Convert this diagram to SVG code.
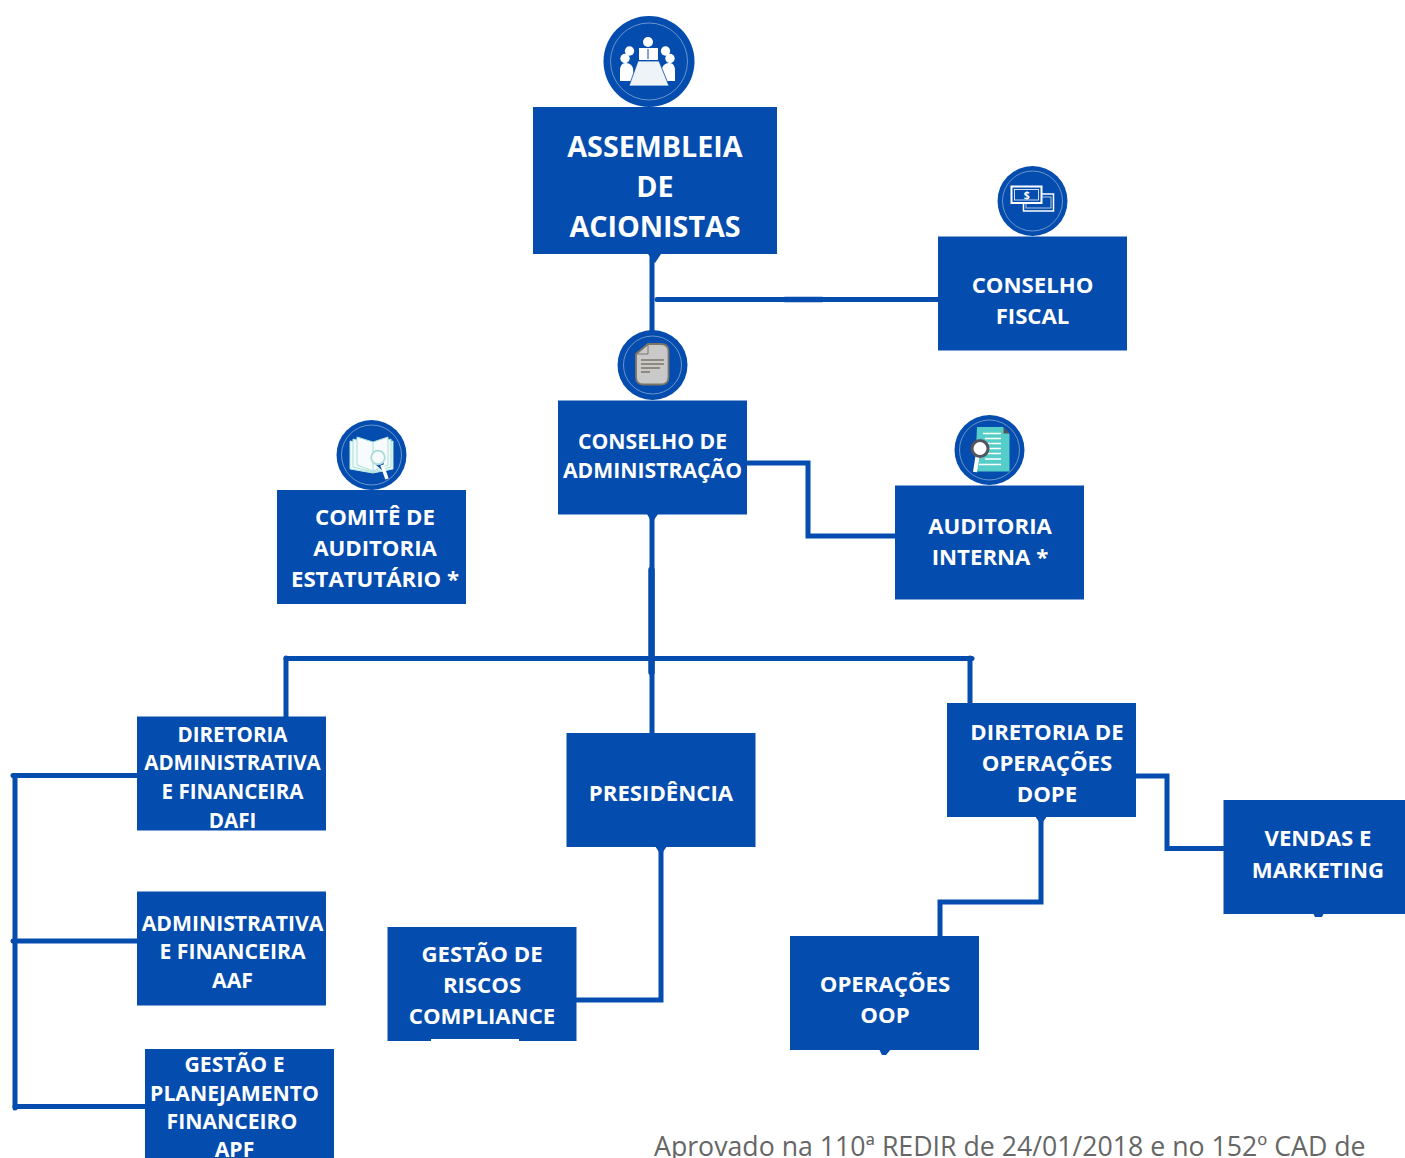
<svg xmlns="http://www.w3.org/2000/svg" width="1405" height="1158" viewBox="0 0 1405 1158">
<style>
.box{fill:#044cad}
.c{fill:#044cad}
.r{fill:none;stroke:#b8cde8;stroke-width:.7;opacity:.8}
text{font-family:"Open Sans","Noto Sans","Liberation Sans",sans-serif;font-weight:700;fill:#fff;text-anchor:middle;font-size:22.200px}
.big{font-size:28.700px}
.mid{font-size:21.200px}
.sm{font-size:20.600px}
.note{font-weight:400;fill:#666;font-size:26.700px;text-anchor:start}
#conn path{fill:none;stroke:#044cad;stroke-width:5;stroke-linecap:round;stroke-linejoin:miter}
#conn path.nub{fill:#044cad;stroke:none}
</style>
<rect width="1405" height="1158" fill="#fff"/>
<g id="conn">
<path d="M652 254V332"/>
<path d="M657 299.500H938"/>
<path d="M785 299.500H822" style="stroke-width:5.500"/>
<path d="M747 463H808V536H895"/>
<path d="M652 515V733"/>
<path d="M651.500 570V672" style="stroke-width:6.500"/>
<path d="M286 658.500H972"/>
<path d="M286 658V717"/>
<path d="M970 658V703"/>
<path d="M1136 776H1167V848.500H1224"/>
<path d="M1041 817V902H940V936"/>
<path d="M661 847V1000H576"/>
<path d="M137 775.500H13"/>
<path d="M137 941H13"/>
<path d="M145 1106.500H15"/>
<path d="M15 776V1108"/>
<path class="nub" d="M648 254H661L655 263Z"/>
<path class="nub" d="M647 514H658L652 523Z"/>
<path class="nub" d="M655 846H667L661 855Z"/>
<path class="nub" d="M1035 816H1047L1041 825Z"/>
<path class="nub" d="M1313 913H1324L1322 917H1315Z"/>
<path class="nub" d="M879 1049H891L886 1055H882Z"/>
</g>
<g id="assembleia">
<circle class="c" cx="649" cy="61.500" r="45.500"/><circle class="r" cx="649" cy="61.500" r="38.500"/>
<g fill="#fff">
<circle cx="648" cy="42" r="5"/>
<path d="M639 48H658V60H639Z"/>
<circle cx="629.500" cy="51" r="4.700"/><circle cx="625" cy="58.500" r="4.700"/>
<path d="M620 81V71Q620 63 625.500 63Q631 63 633 68L634 81Z"/>
<circle cx="665.500" cy="51" r="4.700"/><circle cx="670" cy="58.500" r="4.700"/>
<path d="M675 81V71Q675 63 669.500 63Q664 63 662 68L661 81Z"/>
<path d="M638 61H659L669 86H629Z" fill="#eef3f7" stroke="#044cad" stroke-width=".8"/>
</g>
<path d="M648 49V59" stroke="#044cad" stroke-width="1"/>
<rect class="box" x="533" y="107" width="244" height="147"/>
<text class="big" x="655" y="157">ASSEMBLEIA</text>
<text class="big" x="655" y="197">DE</text>
<text class="big" x="655" y="237">ACIONISTAS</text>
</g>
<g id="conselho-fiscal">
<circle class="c" cx="1032.500" cy="201" r="35"/><circle class="r" cx="1032.500" cy="201" r="30"/>
<rect x="1023.500" y="194" width="30" height="17" fill="#044cad" stroke="#fff" stroke-width="1.500"/>
<rect x="1026" y="197" width="25" height="11" fill="none" stroke="#dfe9f5" stroke-width=".8"/>
<rect x="1011.500" y="186.500" width="30" height="16.500" fill="#044cad" stroke="#fff" stroke-width="2"/>
<rect x="1014.500" y="189.500" width="24" height="10.500" fill="none" stroke="#fff" stroke-width=".8"/>
<text x="1026.800" y="198.500" style="font-size:10.500px">$</text>
<rect class="box" x="938" y="236.500" width="189" height="114"/>
<text x="1032.500" y="292.500">CONSELHO</text>
<text x="1032.500" y="324">FISCAL</text>
</g>
<g id="conselho-administracao">
<circle class="c" cx="652.500" cy="365" r="35"/><circle class="r" cx="652.500" cy="365" r="29"/>
<path d="M648 344H661Q668.500 344 668.500 351.500V377Q668.500 384.500 661 384.500H643.500Q636 384.500 636 377V354Z" fill="#c9c9c9" stroke="#7d7468" stroke-width="1.800"/>
<path d="M648 344V354H636" fill="none" stroke="#7d7468" stroke-width="1"/>
<path d="M641 360H664M641 364H664M641 368H660M641 372H650" stroke="#7d7468" stroke-width="1.500"/>
<rect class="box" x="558" y="400.500" width="189" height="114"/>
<text class="mid" x="652.500" y="449">CONSELHO DE</text>
<text class="mid" x="652.500" y="477.500">ADMINISTRAÇÃO</text>
</g>
<g id="comite">
<circle class="c" cx="371.500" cy="455" r="35"/><circle class="r" cx="371.500" cy="455" r="30"/>
<path d="M350 441V469L373 473L393 469V441L373 445Z" fill="#f2fafa" stroke="#b4e6e1" stroke-width="1"/>
<path d="M353 439V467L373 472L391 467V439L373 444Z" fill="#f2fafa" stroke="#a8e0dc" stroke-width="1"/>
<path d="M357 437V465L373 471L388 465V437L373 442Z" fill="#f7fbfc" stroke="#a8e0dc" stroke-width="1"/>
<path d="M373 442V471" stroke="#a8e0dc" stroke-width="1"/>
<path d="M376 465L384 463L382 470Z" fill="#044cad"/>
<circle cx="378" cy="457.500" r="6.800" fill="#f7fbfc" stroke="#a8dcd8" stroke-width="1.800"/>
<path d="M382 465L387 479" stroke="#fff" stroke-width="3.600"/>
<rect class="box" x="277" y="490" width="189" height="114"/>
<text x="375" y="524.700">COMITÊ DE</text>
<text x="375" y="555.700">AUDITORIA</text>
<text x="375" y="586.700">ESTATUTÁRIO *</text>
</g>
<g id="auditoria">
<circle class="c" cx="989.500" cy="450" r="35"/><circle class="r" cx="989.500" cy="450" r="30"/>
<path d="M977 427H1003L1009.500 434V471.500H975Z" fill="#55cdc8"/>
<path d="M1003.500 427L1009.500 433.500H1003.500Z" fill="#555"/>
<path d="M983 433.500H1001M985 438.500H1001M988 443.500H1001M988 448.500H1001M988 453.500H1001M985 459H1001M979 464.500H1001" stroke="#fff" stroke-width="1.600"/>
<path d="M977.500 456L975 472" stroke="#fff" stroke-width="4"/>
<circle cx="980" cy="448.500" r="8" fill="#fff" stroke="#555560" stroke-width="3"/>
<rect class="box" x="895" y="485.500" width="189" height="114"/>
<text x="990" y="534">AUDITORIA</text>
<text x="990" y="564.700">INTERNA *</text>
</g>
<g id="dafi">
<rect class="box" x="137" y="716.500" width="189" height="114"/>
<text class="sm" x="232.500" y="741.500">DIRETORIA</text>
<text class="sm" x="232.500" y="770">ADMINISTRATIVA</text>
<text class="sm" x="232.500" y="799">E FINANCEIRA</text>
<text class="sm" x="232.500" y="827.500">DAFI</text>
</g>
<g id="presidencia">
<rect class="box" x="566.500" y="733" width="189" height="114"/>
<text x="661" y="800.700">PRESIDÊNCIA</text>
</g>
<g id="dope">
<rect class="box" x="947" y="703" width="189" height="114"/>
<text x="1047" y="739.700">DIRETORIA DE</text>
<text x="1047" y="770.700">OPERAÇÕES</text>
<text x="1047" y="801.700">DOPE</text>
</g>
<g id="vendas">
<rect class="box" x="1223.500" y="800" width="181.500" height="114"/>
<text x="1318" y="845.700">VENDAS E</text>
<text x="1318" y="877.700">MARKETING</text>
</g>
<g id="aaf">
<rect class="box" x="137" y="891.500" width="189" height="114"/>
<text class="mid" x="232.500" y="930.700">ADMINISTRATIVA</text>
<text class="mid" x="232.500" y="958.700">E FINANCEIRA</text>
<text class="mid" x="232.500" y="987.700">AAF</text>
</g>
<g id="riscos">
<rect class="box" x="387.500" y="927" width="189" height="114"/>
<rect x="431" y="1039" width="88" height="2" fill="#fff"/>
<text x="482" y="961.700">GESTÃO DE</text>
<text x="482" y="992.700">RISCOS</text>
<text x="482" y="1023.700">COMPLIANCE</text>
</g>
<g id="oop">
<rect class="box" x="790" y="936" width="189" height="114"/>
<text x="885" y="991.700">OPERAÇÕES</text>
<text x="885" y="1022.700">OOP</text>
</g>
<g id="apf">
<rect class="box" x="145" y="1049" width="189" height="110"/>
<text class="mid" x="234.500" y="1071.700">GESTÃO E</text>
<text class="mid" x="234.500" y="1100.700">PLANEJAMENTO</text>
<text class="mid" x="232" y="1128.700">FINANCEIRO</text>
<text class="mid" x="234.500" y="1157.200">APF</text>
</g>
<text class="note" x="654" y="1155.500">Aprovado na 110ª REDIR de 24/01/2018 e no 152º CAD de</text>
</svg>
